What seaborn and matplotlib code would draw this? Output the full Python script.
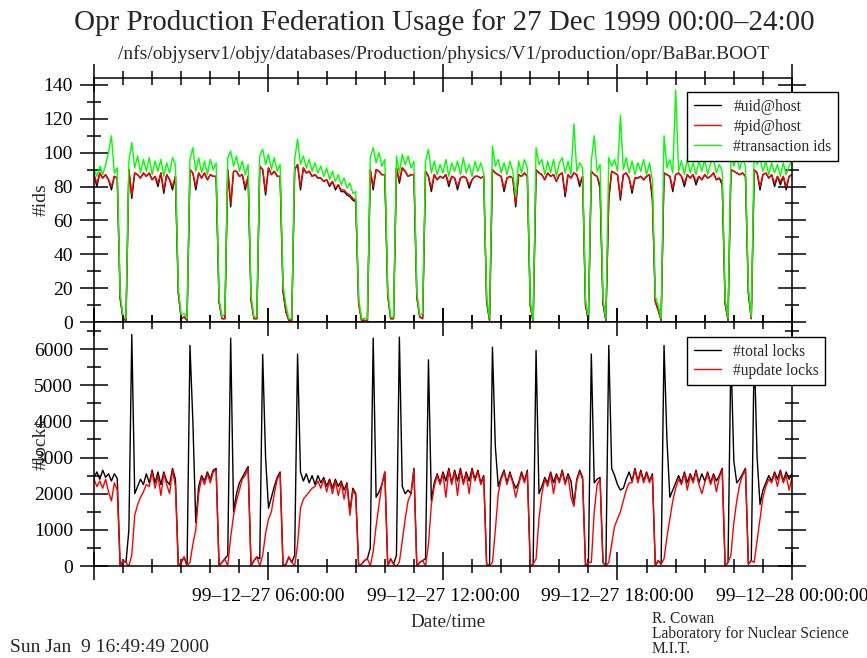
import numpy as np
import pandas as pd
import matplotlib
matplotlib.use("Agg")
import matplotlib.pyplot as plt
import matplotlib.dates as mdates
from matplotlib.ticker import MultipleLocator, FixedLocator, FixedFormatter
import seaborn as sns

# ---------------- data (sampled every 6 minutes, 27 Dec 1999) ----------------
times = pd.date_range("1999-12-27 00:00", "1999-12-28 00:00", freq="6min")

transaction_ids = [
    90, 86, 92, 87, 93, 100, 110, 88, 91,
    17, 3, 2,
    95, 106, 91, 98, 88, 96, 89, 97, 87, 95, 89, 96, 86, 94, 88, 97, 93,
    20, 4, 5, 2,
    96, 103, 89, 97, 88, 95, 87, 96, 90, 94,
    14, 3, 5,
    97, 101, 92, 98, 89, 95, 87, 93,
    16, 3, 3,
    98, 102, 93, 99, 90, 97, 89, 93,
    22, 10, 2, 2,
    96, 108, 93, 98, 91, 96, 89, 94, 88, 92, 86, 91, 84, 89, 83, 87, 81, 85, 79, 82, 76, 77,
    14, 2, 2, 2,
    97, 103, 94, 100, 92, 96,
    19, 3, 3,
    98, 88, 99, 93, 98, 91, 95,
    18, 4, 5,
    95, 102, 88, 95, 87, 93, 88, 96, 86, 94, 89, 95, 87, 97, 88, 93, 86, 95, 89, 94, 88,
    15, 2,
    104, 92, 96, 88, 94, 87, 95, 89, 74, 95, 88, 96, 91,
    12, 1,
    103, 93, 96, 87, 95, 88, 96, 86, 94, 97, 88, 95, 87, 117, 89, 94, 91,
    13, 2,
    95, 110, 89, 93,
    14, 2,
    97, 92, 96, 89, 122, 90, 97, 88, 95, 87, 94, 89, 96, 87, 94, 84,
    15, 10, 2,
    110, 91, 96, 88, 137, 89, 95, 87, 96, 88, 94, 87, 95, 89, 96, 87, 94, 96, 88, 93, 89,
    14, 2,
    99, 92, 98, 90, 97, 92,
    20, 3,
    100, 93, 97, 89, 95, 87, 94, 88, 93, 86, 94, 87, 92, 96,
]

pid_host = [
    87, 82, 88, 85, 87, 84, 80, 86, 85,
    14, 2, 1,
    90, 75, 88, 87, 85, 88, 86, 88, 84, 86, 82, 88, 78, 87, 84, 80, 86,
    17, 2, 3, 1,
    90, 88, 80, 88, 85, 88, 84, 87, 86, 86,
    12, 2, 2,
    90, 70, 89, 89, 86, 87, 80, 86,
    13, 2, 2,
    92, 90, 77, 91, 87, 89, 86, 86,
    18, 6, 1, 1,
    90, 93, 80, 91, 88, 89, 86, 87, 85, 85, 83, 84, 81, 83, 79, 81, 78, 78, 76, 75, 73, 72,
    11, 1, 1, 0,
    90, 80, 90, 89, 87, 87,
    16, 2, 2,
    91, 84, 91, 89, 86, 87, 87,
    15, 3, 2,
    89, 86, 79, 87, 84, 86, 85, 87, 82, 86, 85, 80, 85, 86, 85, 81, 84, 86, 86, 85, 86,
    12, 1,
    90, 88, 87, 86, 79, 85, 86, 85, 70, 87, 86, 88, 86,
    10, 0,
    90, 88, 87, 84, 88, 86, 87, 83, 87, 88, 76, 87, 85, 88, 87, 82, 86,
    10, 1,
    89, 87, 86, 81,
    11, 1,
    74, 89, 88, 87, 74, 87, 88, 85, 78, 85, 85, 86, 84, 86, 87, 74,
    12, 7, 1,
    88, 87, 86, 79, 87, 88, 86, 82, 87, 85, 87, 83, 86, 84, 87, 85, 86, 88, 84, 85, 83,
    11, 1,
    90, 89, 88, 87, 88, 86,
    17, 2,
    90, 88, 80, 87, 88, 85, 87, 82, 86, 83, 86, 80, 86, 87,
]

uid_host = [
    87, 80, 88, 85, 87, 84, 78, 86, 85,
    14, 2, 1,
    90, 73, 88, 87, 85, 88, 86, 88, 84, 86, 80, 88, 76, 87, 84, 78, 86,
    17, 2, 3, 1,
    90, 88, 78, 88, 85, 88, 84, 87, 86, 86,
    12, 2, 2,
    90, 68, 89, 89, 86, 87, 78, 86,
    13, 2, 2,
    92, 90, 75, 91, 87, 89, 86, 86,
    18, 6, 1, 1,
    90, 93, 78, 91, 88, 89, 86, 87, 85, 85, 83, 84, 80, 83, 78, 81, 77, 77, 75, 74, 72, 71,
    11, 1, 1, 0,
    90, 78, 90, 89, 87, 87,
    16, 2, 2,
    91, 82, 91, 89, 86, 87, 87,
    15, 3, 2,
    89, 86, 77, 87, 84, 86, 85, 87, 80, 86, 85, 78, 85, 86, 85, 79, 84, 86, 86, 85, 86,
    12, 1,
    90, 88, 87, 86, 77, 85, 86, 85, 68, 87, 86, 88, 86,
    10, 0,
    90, 88, 87, 84, 88, 86, 87, 83, 87, 88, 74, 87, 85, 88, 87, 80, 86,
    10, 1,
    89, 87, 86, 79,
    11, 1,
    72, 89, 88, 87, 72, 87, 88, 85, 76, 85, 85, 86, 84, 86, 87, 72,
    12, 7, 1,
    88, 87, 86, 77, 87, 88, 86, 80, 87, 85, 87, 81, 86, 84, 87, 85, 86, 88, 84, 85, 81,
    11, 1,
    90, 89, 88, 87, 88, 86,
    17, 2,
    90, 88, 78, 87, 88, 85, 87, 80, 86, 81, 86, 78, 86, 87,
]

total_locks = [
    2450, 2600, 2400, 2650, 2450, 2550, 2350, 2550, 2420,
    0, 150, 100,
    1000, 6400, 2000, 2200, 2400, 2250, 2550, 2300, 2650, 2300, 2600, 2250, 2600, 2350, 2250, 2700, 2400,
    0, 100, 250, 0,
    6100, 4000, 1200, 2200, 2500, 2350, 2600, 2400, 2650, 2700,
    0, 100, 200,
    300, 6300, 1500, 2000, 2300, 2450, 2600, 2750,
    0, 150, 250,
    200, 5850, 3000, 1600, 1900, 2200, 2450, 2600,
    0, 50, 250, 100,
    300, 5860, 2600, 2350, 2550, 2300, 2500, 2250, 2500, 2300, 2450, 2200, 2400, 2150, 2400, 2200, 2350, 2100, 2300, 1500, 2150, 2000,
    0, 50, 150, 200,
    500, 6300, 1900, 2050, 2250, 2600,
    0, 200, 50,
    300, 6330, 2200, 2000, 2100, 2000, 2700,
    0, 100, 150,
    200, 5700, 1800, 2300, 2550, 2300, 2600, 2350, 2700, 2300, 2650, 2350, 2700, 2300, 2600, 2350, 2700, 2400, 2650, 2300, 2500,
    50, 0,
    6050, 3300, 2200, 2450, 2650, 2300, 2600, 2350, 2150, 2300, 2600, 2350, 2650,
    0, 50,
    5960, 2000, 2200, 2450, 2300, 2600, 2300, 2550, 2350, 2650, 2300, 2550, 2350, 1700, 2400, 2650, 2450,
    0, 100,
    5860, 2300, 2400, 2450,
    100, 0,
    6100, 2700, 2500, 2250, 2100, 2150, 2400, 2600, 2350, 2700, 2350, 2650, 2350, 2600, 2350, 2550,
    0, 150, 50,
    6100, 3500, 1900, 2100, 2300, 2500, 2300, 2600, 2300, 2550, 2350, 2650, 2300, 2550, 2350, 2600, 2300, 2550, 2350, 2500, 2700,
    0, 100,
    5900, 2900, 2300, 2400, 2550, 2700,
    50, 150,
    6000, 3000, 1700, 2100, 2300, 2500, 2350, 2600, 2400, 2650, 2350, 2600, 2400, 2550,
]

update_locks = [
    2400, 2200, 2350, 2150, 2400, 2050, 1800, 2300, 2100,
    0, 150, 100,
    0, 300, 1400, 1700, 1900, 2050, 2250, 2200, 2600, 2150, 2500, 1950, 2550, 2250, 2000, 2650, 2200,
    0, 100, 250, 0,
    100, 600, 1000, 2000, 2450, 2250, 2550, 2300, 2600, 2650,
    0, 100, 200,
    0, 800, 1400, 1800, 2100, 2400, 2500, 2700,
    0, 150, 250,
    0, 300, 900, 1300, 1500, 2000, 2400, 2550,
    0, 50, 250, 100,
    0, 600, 1600, 1850, 1950, 2050, 2150, 2200, 2350, 2150, 2400, 2050, 2350, 2000, 2350, 1950, 2300, 1850, 2250, 1400, 2100, 1950,
    0, 50, 150, 200,
    0, 400, 1100, 1700, 2250, 2600,
    0, 200, 50,
    0, 100, 700, 1300, 1800, 2000, 2650,
    0, 100, 150,
    0, 600, 1700, 2200, 2500, 2250, 2550, 1900, 2650, 2250, 2600, 1950, 2650, 2250, 2550, 2000, 2650, 2350, 2600, 2250, 2450,
    50, 0,
    100, 1000, 2000, 2400, 2600, 2250, 2550, 2300, 1900, 2250, 2550, 2300, 2600,
    0, 50,
    200, 1300, 2000, 2400, 2200, 2550, 2000, 2500, 2300, 2600, 2250, 2500, 1900, 1650, 2350, 2600, 2400,
    0, 100,
    100, 1500, 2250, 2400,
    100, 0,
    100, 600, 1100, 1300, 1500, 1800, 2100, 2300, 2300, 2650, 2300, 2600, 2300, 2550, 2300, 2500,
    0, 150, 50,
    200, 800, 1300, 1800, 2150, 2400, 2250, 2550, 2100, 2500, 2300, 2600, 2250, 2000, 2300, 2550, 2250, 2500, 2050, 2450, 2650,
    0, 100,
    300, 1200, 1800, 2250, 2500, 2650,
    50, 150,
    100, 700, 1300, 1900, 2200, 2400, 2300, 2550, 2200, 2600, 2300, 2500, 2100, 2450,
]

ids_names = ["#uid@host", "#pid@host", "#transaction ids"]
ids_colors = ["#000000", "#ff0000", "#00ff00"]
lock_names = ["#total locks", "#update locks"]
lock_colors = ["#000000", "#ff0000"]

x_tick_times = ["1999-12-27 00:00", "1999-12-27 06:00", "1999-12-27 12:00",
                "1999-12-27 18:00", "1999-12-28 00:00"]
x_tick_labels = ["", "99\u201312\u201327 06:00:00", "99\u201312\u201327 12:00:00",
                 "99\u201312\u201327 18:00:00", "99\u201312\u201328 00:00:00"]

title = "Opr Production Federation Usage for 27 Dec 1999 00:00\u201324:00"
subtitle = "/nfs/objyserv1/objy/databases/Production/physics/V1/production/opr/BaBar.BOOT"

ids_df = pd.DataFrame({"time": times, ids_names[0]: uid_host,
                       ids_names[1]: pid_host, ids_names[2]: transaction_ids})
locks_df = pd.DataFrame({"time": times, lock_names[0]: total_locks,
                         lock_names[1]: update_locks})

# ---------------- style ----------------
sns.set_style("ticks")
plt.rcParams["font.family"] = ["Liberation Serif", "DejaVu Serif"]
plt.rcParams["axes.linewidth"] = 1.1
plt.rcParams["axes.edgecolor"] = "black"

fig = plt.figure(figsize=(8.67, 6.58), dpi=100)
ax1 = fig.add_axes([0.1084, 0.5106, 0.8051, 0.3709])
ax2 = fig.add_axes([0.1084, 0.1398, 0.8051, 0.3708], sharex=ax1)

for name, color in zip(ids_names, ids_colors):
    sns.lineplot(data=ids_df, x="time", y=name, ax=ax1, color=color,
                 lw=1.0, label=name, estimator=None, legend=False)
for name, color in zip(lock_names, lock_colors):
    sns.lineplot(data=locks_df, x="time", y=name, ax=ax2, color=color,
                 lw=1.0, label=name, estimator=None, legend=False)

ax1.set_xlim(times[0], times[-1])
ax1.set_ylim(0, 144.1)
ax2.set_ylim(0, 6746)

tick_pos = mdates.date2num(pd.to_datetime(x_tick_times))
ax2.xaxis.set_major_locator(FixedLocator(tick_pos))
ax2.xaxis.set_major_formatter(FixedFormatter(x_tick_labels))
ax2.xaxis.set_minor_locator(mdates.HourLocator())

ax1.yaxis.set_major_locator(MultipleLocator(20))
ax1.yaxis.set_minor_locator(MultipleLocator(10))
ax2.yaxis.set_major_locator(MultipleLocator(1000))
ax2.yaxis.set_minor_locator(MultipleLocator(500))

for ax in (ax1, ax2):
    ax.tick_params(which="both", direction="inout", top=True, right=True,
                   width=1.1, color="black", labelsize=14, labelcolor="black")
    ax.tick_params(which="major", length=19.5)
    ax.tick_params(which="minor", length=9.7)
    ax.tick_params(axis="y", which="major", pad=5.4)
    ax.tick_params(axis="x", which="major", pad=6.2)
    for s in ax.spines.values():
        s.set_color("black")
        s.set_linewidth(1.1)
ax1.tick_params(axis="x", labelbottom=False)

ax1.set_ylabel("#ids", fontsize=14)
ax2.set_ylabel("#locks", fontsize=14)
ax1.yaxis.set_label_coords(-0.064, 0.5)
ax2.yaxis.set_label_coords(-0.064, 0.5)
ax1.set_xlabel("")
ax2.set_xlabel("Date/time", fontsize=13.8)
ax2.xaxis.set_label_coords(0.507, -0.197)

leg_kw = dict(loc="upper left", borderaxespad=0, frameon=True, fancybox=False,
              edgecolor="black", framealpha=1, fontsize=11.2, handlelength=1.75,
              handletextpad=0.8, borderpad=0.42)
leg1 = ax1.legend(bbox_to_anchor=(0.8496, 0.9426), labelspacing=0.26, **leg_kw)
leg2 = ax2.legend(bbox_to_anchor=(0.8496, 0.9385), labelspacing=0.2, **leg_kw)
for leg in (leg1, leg2):
    leg.get_frame().set_linewidth(1.0)
    leg.set_zorder(10)

fig.text(0.513, 0.966, title, ha="center", va="center", fontsize=20.9)
fig.text(0.5115, 0.918, subtitle, ha="center", va="center", fontsize=14)
fig.text(0.0115, 0.016, "Sun Jan  9 16:49:49 2000", ha="left", va="center", fontsize=14)
fig.text(0.752, 0.072, "R. Cowan\nLaboratory for Nuclear Science\nM.I.T.",
         ha="left", va="top", fontsize=11.2, linespacing=0.95)

fig.savefig("out.png", dpi=100)
